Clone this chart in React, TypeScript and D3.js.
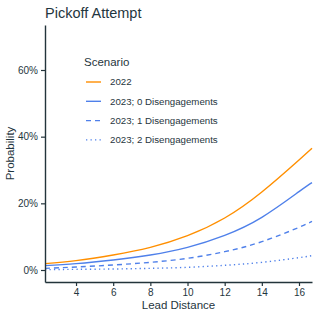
import React, { useEffect, useRef } from 'react';
import * as d3 from 'd3';

const leadDistance = [2.33, 4, 6, 8, 10, 12, 14, 16, 16.7];

const p2022 = [0.019, 0.028, 0.045, 0.068, 0.103, 0.156, 0.234, 0.330, 0.365];
const p2023dis0 = [0.013, 0.019, 0.030, 0.045, 0.068, 0.104, 0.158, 0.235, 0.262];
const p2023dis1 = [0.005, 0.009, 0.015, 0.023, 0.035, 0.055, 0.085, 0.128, 0.146];
const p2023dis2 = [0.001, 0.002, 0.003, 0.005, 0.008, 0.014, 0.023, 0.037, 0.043];

const scenarios = ['2022', '2023; 0 Disengagements', '2023; 1 Disengagements', '2023; 2 Disengagements'];
const xTicks = [4, 6, 8, 10, 12, 14, 16];
const yTicks = [0, 0.2, 0.4, 0.6];

const TEXT = '#1f3640';
const AXIS = '#23343b';
const FONT = '"Liberation Sans", Arial, sans-serif';

export default function App() {
  const svgRef = useRef<SVGSVGElement>(null);

  useEffect(() => {
    const width = 317;
    const height = 317;
    const margin = { top: 25, right: 5, bottom: 35, left: 45 };

    const svg = d3.select(svgRef.current);
    svg.selectAll('*').remove();

    const x = d3.scaleLinear().domain([2.33, 16.7]).range([margin.left, width - margin.right]);
    const y = d3.scaleLinear().domain([-0.036, 0.735]).range([height - margin.bottom, margin.top]);

    const series = [
      { name: scenarios[0], values: p2022, color: '#ff8f00', dash: null },
      { name: scenarios[1], values: p2023dis0, color: '#4f80ea', dash: null },
      { name: scenarios[2], values: p2023dis1, color: '#4f80ea', dash: '5,4' },
      { name: scenarios[3], values: p2023dis2, color: '#4f80ea', dash: '1.3,3.2' },
    ];

    const line = d3.line<number>()
      .x((_, i) => x(leadDistance[i]))
      .y(d => y(d))
      .curve(d3.curveNatural);

    series.forEach(s => {
      svg.append('path')
        .datum(s.values)
        .attr('fill', 'none')
        .attr('stroke', s.color)
        .attr('stroke-width', 1.4)
        .attr('stroke-dasharray', s.dash)
        .attr('d', line);
    });

    // Axes
    const xAxis = d3.axisBottom(x).tickValues(xTicks).tickSize(4).tickSizeOuter(0).tickPadding(3);
    const yAxis = d3.axisLeft(y).tickValues(yTicks).tickSize(4).tickSizeOuter(0).tickPadding(3)
      .tickFormat(d => `${Math.round(Number(d) * 100)}%`);

    const gx = svg.append('g')
      .attr('transform', `translate(0,${height - margin.bottom})`)
      .call(xAxis);
    const gy = svg.append('g')
      .attr('transform', `translate(${margin.left},0)`)
      .call(yAxis);

    [gx, gy].forEach(g => {
      g.select('.domain').attr('stroke', AXIS).attr('stroke-width', 1.4);
      g.selectAll('.tick line').attr('stroke', AXIS).attr('stroke-width', 1.2);
      g.selectAll('text')
        .attr('fill', TEXT)
        .style('font-family', FONT)
        .style('font-size', '10px');
    });

    // Titles
    svg.append('text')
      .attr('x', 45)
      .attr('y', 18)
      .attr('fill', TEXT)
      .style('font-family', FONT)
      .style('font-size', '14.5px')
      .text('Pickoff Attempt');

    svg.append('text')
      .attr('x', (margin.left + width - margin.right) / 2)
      .attr('y', 309)
      .attr('text-anchor', 'middle')
      .attr('fill', TEXT)
      .style('font-family', FONT)
      .style('font-size', '11.5px')
      .text('Lead Distance');

    svg.append('text')
      .attr('transform', `translate(14,${(margin.top + height - margin.bottom) / 2}) rotate(-90)`)
      .attr('text-anchor', 'middle')
      .attr('fill', TEXT)
      .style('font-family', FONT)
      .style('font-size', '11.5px')
      .text('Probability');

    // Legend
    const legend = svg.append('g').attr('transform', 'translate(84,0)');
    legend.append('text')
      .attr('x', 0)
      .attr('y', 66)
      .attr('fill', TEXT)
      .style('font-family', FONT)
      .style('font-size', '11.5px')
      .text('Scenario');

    series.forEach((s, i) => {
      const yy = 82 + i * 19.3;
      legend.append('line')
        .attr('x1', 2).attr('x2', 17)
        .attr('y1', yy).attr('y2', yy)
        .attr('stroke', s.color)
        .attr('stroke-width', 1.4)
        .attr('stroke-dasharray', s.dash);
      legend.append('text')
        .attr('x', 26)
        .attr('y', yy + 3.3)
        .attr('fill', TEXT)
        .style('font-family', FONT)
        .style('font-size', '9.7px')
        .text(s.name);
    });
  }, []);

  return (
    <div style={{ position: 'absolute', left: 0, top: 0 }}>
      <svg ref={svgRef} width={317} height={317} style={{ display: 'block', background: '#fff' }} />
    </div>
  );
}
